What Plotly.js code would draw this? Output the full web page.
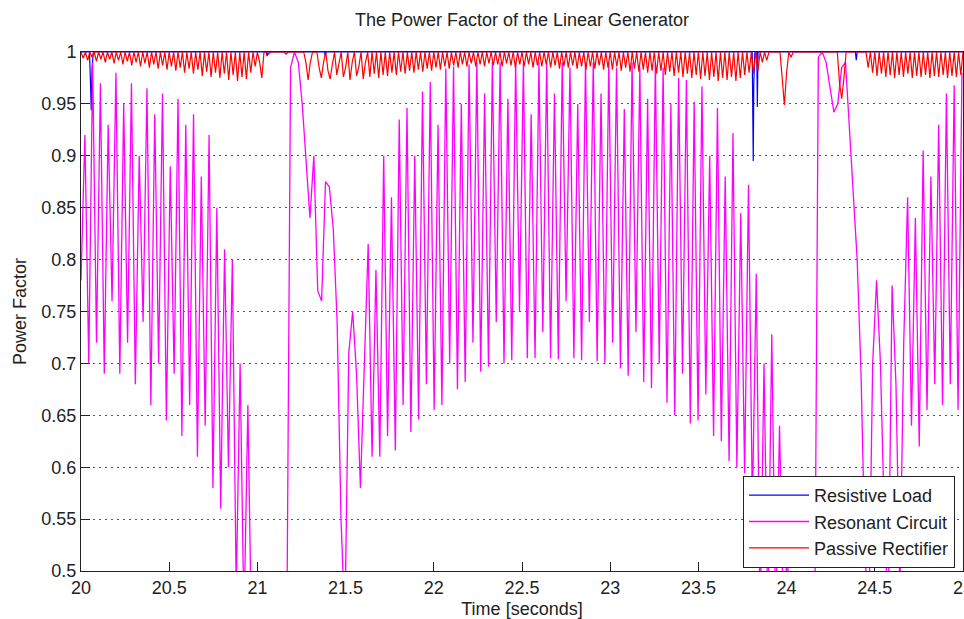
<!DOCTYPE html>
<html><head><meta charset="utf-8">
<script src="https://cdn.plot.ly/plotly-3.0.1.min.js"></script>
<style>html,body{margin:0;padding:0;background:#fff;overflow:hidden}#chart{width:964px;height:619px}</style>
</head><body><div id="chart"></div>
<script>
const seriesNames = ['Resistive Load', 'Resonant Circuit', 'Passive Rectifier'];
const seriesColors = ['#0000ff', '#ff00ff', '#ff0000'];
const timeStart = 20;

// Resistive load: sparse samples (mostly unity)
const resistiveTime = [20.000,20.048,20.053,20.058,20.063,20.070,21.050,21.055,21.060,21.380,21.385,21.390,23.805,23.811,23.814,23.820,23.831,23.834,23.838,24.390,24.395,24.400,25.000];
const resistivePF   = [1,1,0.975,0.944,0.985,1,1,0.996,1,1,0.996,1,1,0.895,0.97,1,1,0.947,1,1,0.992,1,1];

// Resonant circuit: sampled every 0.022 s from t = 20
const resonantStep = 0.022;
const resonantPF = [
 0.78,0.92,0.70,0.99,0.72,0.97,0.69,0.93,0.76,0.98,
 0.69,0.95,0.72,0.97,0.68,0.90,0.74,0.965,0.66,0.94,
 0.70,0.96,0.645,0.89,0.69,0.955,0.63,0.93,0.66,0.94,
 0.61,0.88,0.64,0.92,0.58,0.85,0.56,0.81,0.60,0.80,
 0.48,0.70,0.45,0.66,0.42,0.40,0.40,0.40,0.40,0.40,
 0.40,0.40,0.40,0.42,0.985,1.0,0.99,0.95,0.89,0.84,
 0.90,0.77,0.76,0.875,0.87,0.83,0.74,0.55,0.45,0.71,
 0.75,0.69,0.58,0.70,0.815,0.61,0.79,0.61,0.90,0.63,
 0.86,0.616,0.935,0.66,0.946,0.634,0.90,0.646,0.962,0.68,
 0.971,0.655,0.93,0.66,0.984,0.70,0.986,0.675,0.95,0.682,
 0.988,0.72,0.99,0.692,0.96,0.697,0.99,0.74,0.99,0.70,
 0.955,0.703,0.99,0.75,0.99,0.705,0.94,0.705,0.99,0.73,
 0.99,0.705,0.96,0.704,0.99,0.76,0.985,0.705,0.95,0.703,
 0.99,0.74,0.99,0.702,0.96,0.70,0.99,0.72,0.985,0.695,
 0.945,0.688,0.99,0.73,0.985,0.682,0.955,0.676,0.99,0.70,
 0.985,0.662,0.95,0.65,0.975,0.69,0.973,0.642,0.952,0.645,
 0.967,0.67,0.90,0.63,0.946,0.625,0.88,0.606,0.922,0.60,
 0.845,0.594,0.872,0.56,0.786,0.45,0.70,0.45,0.728,0.45,
 0.64,0.45,0.52,0.40,0.40,0.40,0.40,0.40,0.40,0.40,
 0.995,1.0,0.99,0.965,0.942,0.95,0.985,0.99,0.93,0.87,
 0.80,0.69,0.52,0.45,0.70,0.78,0.70,0.55,0.46,0.775,
 0.68,0.48,0.72,0.86,0.64,0.84,0.62,0.905,0.655,0.88,
 0.68,0.93,0.66,0.96,0.68,0.968,0.655,0.98
];

// Passive rectifier: sampled every 0.0125 s from t = 20
const rectifierStep = 0.0125;
const rectifierPF = [
 1,0.994,1,0.992,1,0.995,1,0.991,1,0.993,
 1,0.99,1,0.993,1,0.989,1,0.992,1,0.988,
 1,0.991,1,0.987,1,0.99,1,0.986,1,0.989,
 1,0.985,1,0.988,1,0.984,1,0.987,1,0.983,
 1,0.986,1,0.982,1,0.985,1,0.98,1,0.984,
 1,0.979,1,0.983,1,0.977,1,0.981,1,0.976,
 1,0.98,1,0.975,1,0.979,1,0.973,1,0.978,
 1,0.972,1,0.976,1,0.974,1,0.98,1,0.986,
 1,0.99,0.975,1,1,0.998,1,1,1,1,
 1,1,1,0.998,1,1,1,1,1,1,
 1,1,0.99,0.973,0.99,1,1,1,0.985,0.975,
 0.99,1,0.982,0.974,0.988,1,0.978,0.99,1,0.976,
 0.985,1,0.973,0.99,1,0.977,0.986,1,0.974,0.99,
 1,0.976,1,0.979,1,0.975,1,0.978,1,0.977,
 1,0.98,1,0.978,1,0.981,1,0.979,1,0.982,
 1,0.98,1,0.983,1,0.981,1,0.984,1,0.982,
 1,0.985,1,0.983,1,0.986,1,0.984,1,0.987,
 1,0.985,1,0.988,1,0.986,1,0.989,1,0.986,
 1,0.988,1,0.986,1,0.989,1,0.987,1,0.988,
 1,0.986,1,0.989,1,0.987,1,0.985,1,0.988,
 1,0.986,1,0.988,1,0.985,1,0.987,1,0.986,
 1,0.988,1,0.985,1,0.987,1,0.984,1,0.986,
 1,0.985,1,0.987,1,0.984,1,0.986,1,0.983,
 1,0.986,1,0.984,1,0.987,1,0.983,1,0.985,
 1,0.983,1,0.986,1,0.982,1,0.985,1,0.981,
 1,0.984,1,0.981,1,0.983,1,0.98,1,0.982,
 1,0.979,1,0.982,1,0.978,1,0.981,1,0.977,
 1,0.98,1,0.976,1,0.979,1,0.975,1,0.978,
 1,0.974,1,0.977,1,0.973,1,0.976,1,0.972,
 1,0.975,1,0.973,1,0.976,1,0.972,1,0.975,
 1,0.978,1,0.98,1,0.979,1,0.982,1,0.99,
 1,0.992,1,1,1,1,1,1,0.975,0.949,
 0.98,1,0.995,1,1,1,1,1,1,1,
 1,1,1,1,1,1,1,1,1,1,
 1,1,1,1,0.97,0.955,0.975,1,1,1,
 1,1,1,1,1,1,1,0.985,1,0.98,
 1,0.977,1,0.979,1,0.976,1,0.978,1,0.975,
 1,0.978,1,0.976,1,0.979,1,0.975,1,0.977,
 1,0.976,1,0.978,1,0.975,1,0.977,1,0.976,
 1,0.978,1,0.975,1,0.977,1,0.976,1,0.978,
 1
];

const xTickVals = [20, 20.5, 21, 21.5, 22, 22.5, 23, 23.5, 24, 24.5, 25];
const xTickText = ['20','20.5','21','21.5','22','22.5','23','23.5','24','24.5','25'];
const yTickVals = [0.5, 0.55, 0.6, 0.65, 0.7, 0.75, 0.8, 0.85, 0.9, 0.95, 1];
const yTickText = ['0.5','0.55','0.6','0.65','0.7','0.75','0.8','0.85','0.9','0.95','1'];

const FONT = 'Liberation Sans, Arial, Helvetica, sans-serif';

const traces = [
  {type:'scatter', mode:'lines', name:seriesNames[0], x:resistiveTime, y:resistivePF,
   line:{color:seriesColors[0], width:1.2}},
  {type:'scatter', mode:'lines', name:seriesNames[1], x0:timeStart, dx:resonantStep, y:resonantPF,
   line:{color:seriesColors[1], width:1.3}},
  {type:'scatter', mode:'lines', name:seriesNames[2], x0:timeStart, dx:rectifierStep, y:rectifierPF,
   line:{color:seriesColors[2], width:1.2}}
];

const layout = {
  width:964, height:619,
  margin:{l:81, r:1, t:52, b:48},
  paper_bgcolor:'#fff', plot_bgcolor:'#fff',
  font:{family:FONT, size:18, color:'#222'},
  showlegend:true,
  title:{text:'The Power Factor of the Linear Generator', font:{family:FONT, size:18, color:'#222'},
         x:0.5, xref:'paper', xanchor:'center', y:1-20/619, yref:'container', yanchor:'middle'},
  xaxis:{range:[20,25], tickmode:'array', tickvals:xTickVals, ticktext:xTickText,
         ticks:'inside', ticklen:9, tickcolor:'#222', tickwidth:1,
         showline:true, linecolor:'#222', linewidth:1, mirror:true,
         showgrid:false, zeroline:false, layer:'below traces',
         ticklabeloverflow:'allow',
         tickfont:{family:FONT, size:18, color:'#222'},
         title:{text:'Time [seconds]', font:{family:FONT, size:18, color:'#222'}, standoff:14},
         automargin:false},
  yaxis:{range:[0.5,1], tickmode:'array', tickvals:yTickVals, ticktext:yTickText,
         ticks:'inside', ticklen:9, tickcolor:'#222', tickwidth:1,
         showline:true, linecolor:'#222', linewidth:1, mirror:true,
         showgrid:true, gridcolor:'#555', gridwidth:1, griddash:'2px,4px',
         zeroline:false, layer:'below traces',
         tickfont:{family:FONT, size:18, color:'#222'},
         title:{text:'Power Factor', font:{family:FONT, size:18, color:'#222'}, standoff:10},
         automargin:false},
  legend:{x:0.991, xanchor:'right', y:0.006, yanchor:'bottom',
          bgcolor:'#fff', bordercolor:'#222', borderwidth:1, itemwidth:60,
          font:{family:FONT, size:18, color:'#222'}, traceorder:'normal'}
};

Plotly.newPlot('chart', traces, layout, {displayModeBar:false, staticPlot:true});
</script>
</body></html>
